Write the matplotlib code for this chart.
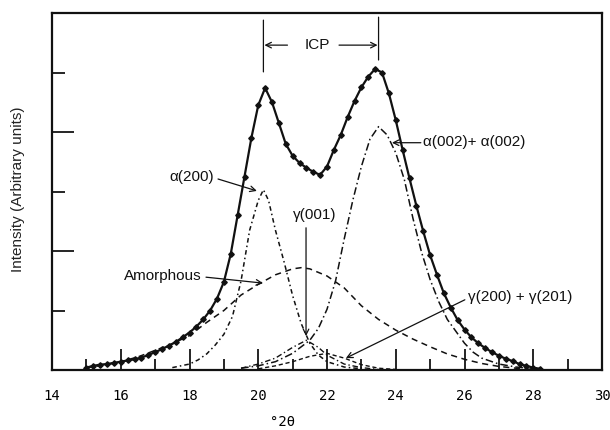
import matplotlib
matplotlib.use("Agg")
import matplotlib.pyplot as plt
from matplotlib.ticker import MultipleLocator, NullFormatter

# ---- measured pattern (total) ----
two_theta = [15.0, 15.2, 15.4, 15.6, 15.8, 16.0, 16.2, 16.4, 16.6, 16.8,
             17.0, 17.2, 17.4, 17.6, 17.8, 18.0, 18.2, 18.4, 18.6, 18.8,
             19.0, 19.2, 19.4, 19.6, 19.8, 20.0, 20.2, 20.4, 20.6, 20.8,
             21.0, 21.2, 21.4, 21.6, 21.8, 22.0, 22.2, 22.4, 22.6, 22.8,
             23.0, 23.2, 23.4, 23.6, 23.8, 24.0, 24.2, 24.4, 24.6, 24.8,
             25.0, 25.2, 25.4, 25.6, 25.8, 26.0, 26.2, 26.4, 26.6, 26.8,
             27.0, 27.2, 27.4, 27.6, 27.8, 28.0, 28.2]
intensity = [0.04, 0.07, 0.09, 0.10, 0.12, 0.14, 0.16, 0.18, 0.21, 0.25,
             0.30, 0.35, 0.41, 0.47, 0.55, 0.63, 0.73, 0.85, 1.00, 1.20,
             1.48, 1.95, 2.60, 3.25, 3.90, 4.45, 4.74, 4.50, 4.15, 3.80,
             3.60, 3.48, 3.40, 3.33, 3.28, 3.42, 3.70, 3.95, 4.25, 4.52,
             4.75, 4.93, 5.06, 5.00, 4.65, 4.20, 3.70, 3.22, 2.76, 2.33,
             1.93, 1.60, 1.29, 1.05, 0.84, 0.68, 0.55, 0.45, 0.37, 0.30,
             0.24, 0.19, 0.15, 0.10, 0.07, 0.04, 0.02]

# ---- fitted components ----
a200_x = [17.5, 18.0, 18.25, 18.5, 18.75, 19.0, 19.25, 19.5, 19.75, 20.0,
          20.15, 20.3, 20.5, 20.75, 21.0, 21.25, 21.5, 21.75, 22.0, 22.5, 23.0]
a200_y = [0.04, 0.10, 0.17, 0.27, 0.42, 0.60, 0.90, 1.50, 2.35, 2.85,
          3.03, 2.85, 2.35, 1.82, 1.25, 0.78, 0.45, 0.25, 0.14, 0.05, 0.02]

a002_x = [19.5, 20.0, 20.5, 21.0, 21.5, 21.75, 22.0, 22.25, 22.5, 22.75,
          23.0, 23.25, 23.5, 23.75, 24.0, 24.25, 24.5, 24.75, 25.0, 25.25,
          25.5, 25.75, 26.0, 26.25, 26.5, 27.0, 27.5, 28.0]
a002_y = [0.03, 0.07, 0.14, 0.28, 0.50, 0.70, 1.02, 1.50, 2.20, 2.85,
          3.42, 3.88, 4.09, 3.95, 3.65, 3.20, 2.55, 1.98, 1.52, 1.15,
          0.85, 0.65, 0.45, 0.30, 0.20, 0.10, 0.05, 0.02]

amor_x = [15.0, 15.5, 16.0, 16.5, 17.0, 17.5, 18.0, 18.5, 19.0, 19.5,
          20.0, 20.5, 21.0, 21.25, 21.5, 22.0, 22.5, 23.0, 23.5, 24.0,
          24.5, 25.0, 25.5, 26.0, 26.5, 27.0, 27.5, 28.0]
amor_y = [0.04, 0.08, 0.14, 0.22, 0.33, 0.44, 0.58, 0.80, 1.00, 1.26,
          1.44, 1.60, 1.70, 1.72, 1.70, 1.58, 1.38, 1.08, 0.85, 0.67,
          0.52, 0.39, 0.27, 0.18, 0.11, 0.06, 0.03, 0.01]

g001_x = [19.5, 20.0, 20.5, 21.0, 21.4, 21.75, 22.0, 22.5, 23.0, 23.5]
g001_y = [0.03, 0.10, 0.20, 0.38, 0.50, 0.38, 0.25, 0.10, 0.04, 0.01]

g200_x = [20.0, 20.5, 21.0, 21.5, 22.0, 22.5, 23.0, 23.5, 24.0]
g200_y = [0.02, 0.07, 0.14, 0.23, 0.28, 0.20, 0.09, 0.03, 0.01]

x_ticks = [14, 16, 18, 20, 22, 24, 26, 28, 30]

label_font = "Liberation Sans"
mono_font = "DejaVu Sans Mono"

fig = plt.figure(figsize=(6.1, 4.3), dpi=100)
ax = fig.add_axes([52 / 610, 60 / 430, 550 / 610, 357 / 430])

ink = "#111111"
ax.plot(amor_x, amor_y, color=ink, lw=1.1, ls=(0, (4, 3)))
ax.plot(a200_x, a200_y, color=ink, lw=1.1, ls=(0, (3, 2, 1, 2)))
ax.plot(a002_x, a002_y, color=ink, lw=1.1, ls=(0, (5, 2, 1, 2)))
ax.plot(g001_x, g001_y, color=ink, lw=1.0, ls=(0, (4, 2, 1, 2)))
ax.plot(g200_x, g200_y, color=ink, lw=1.0, ls=(0, (3, 2)))
ax.plot(two_theta, intensity, color=ink, lw=1.6, marker="D", ms=2.8,
        mfc=ink, mec=ink)

ax.set_xlim(14, 30)
ax.set_ylim(0, 6)
ax.set_xticks(x_ticks)
ax.set_xticklabels([str(t) for t in x_ticks], fontfamily=mono_font, fontsize=10)
ax.xaxis.set_minor_locator(MultipleLocator(1))
ax.yaxis.set_major_locator(MultipleLocator(2))
ax.yaxis.set_minor_locator(MultipleLocator(1))
ax.yaxis.set_major_formatter(NullFormatter())
ax.tick_params(axis="x", which="major", direction="in", length=15, width=1.2, pad=14)
ax.tick_params(axis="x", which="minor", direction="in", length=8, width=1.2)
ax.tick_params(axis="y", which="major", direction="in", length=16, width=1.2)
ax.tick_params(axis="y", which="minor", direction="in", length=9, width=1.2)
for s in ax.spines.values():
    s.set_linewidth(1.6)
    s.set_color(ink)

ax.text((283 - 52) / 550, -52 / 357, "°2θ", transform=ax.transAxes,
        ha="center", va="center", fontsize=10, fontfamily=mono_font)
fig.text(18 / 610, 1 - 189 / 430, "Intensity (Arbitrary units)", rotation=90,
         ha="center", va="center", fontsize=11, fontfamily=label_font, color="#222222")

arrow = dict(arrowstyle="->", color=ink, lw=0.9, shrinkA=0, shrinkB=0)
line = dict(arrowstyle="-", color=ink, lw=0.9, shrinkA=0, shrinkB=0)
tfont = dict(fontsize=11, fontfamily=label_font, color=ink)

# ICP bracket
ax.annotate("", xy=(20.15, 5.01), xytext=(20.15, 5.88), arrowprops=line)
ax.annotate("", xy=(23.5, 5.21), xytext=(23.5, 5.93), arrowprops=line)
ax.text(21.71, 5.46, "ICP", ha="center", va="center", **tfont)
ax.annotate("", xy=(20.18, 5.46), xytext=(20.85, 5.46), arrowprops=arrow)
ax.annotate("", xy=(23.47, 5.46), xytext=(22.35, 5.46), arrowprops=arrow)

# component labels
ax.text(18.07, 3.24, "α(200)", ha="center", va="center", **tfont)
ax.annotate("", xy=(19.96, 3.01), xytext=(18.83, 3.21), arrowprops=arrow)

ax.text(21.65, 2.6, "γ(001)", ha="center", va="center", **tfont)
ax.annotate("", xy=(21.39, 0.57), xytext=(21.39, 2.39), arrowprops=arrow)

ax.text(17.23, 1.58, "Amorphous", ha="center", va="center", **tfont)
ax.annotate("", xy=(20.14, 1.46), xytext=(18.48, 1.56), arrowprops=arrow)

ax.text(24.79, 3.83, "α(002)+ α(002)", ha="left", va="center", **tfont)
ax.annotate("", xy=(23.89, 3.82), xytext=(24.73, 3.82), arrowprops=arrow)

ax.text(26.1, 1.23, "γ(200) + γ(201)", ha="left", va="center", **tfont)
ax.annotate("", xy=(22.55, 0.2), xytext=(26.01, 1.18), arrowprops=arrow)

fig.savefig("out.png", dpi=100)
